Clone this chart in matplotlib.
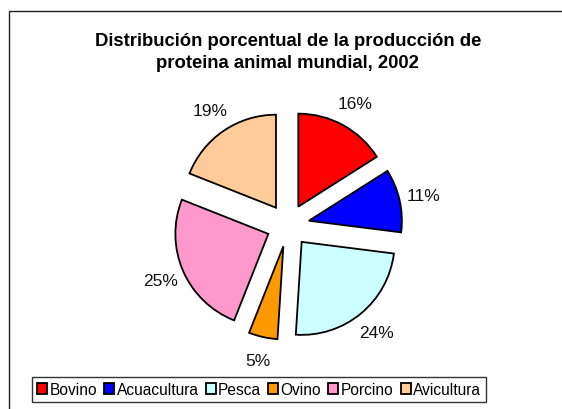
import matplotlib
matplotlib.use('Agg')
import matplotlib.pyplot as plt
from matplotlib.patches import Rectangle

plt.rcParams['font.family'] = ['Liberation Sans', 'DejaVu Sans']

# datos
categorias = ['Bovino', 'Acuacultura', 'Pesca', 'Ovino', 'Porcino', 'Avicultura']
porcentajes = [16, 11, 24, 5, 25, 19]
colores = ['#FF0000', '#0000FF', '#CCFFFF', '#FF9900', '#FF99CC', '#FFCC99']
separacion = [0.23] * len(categorias)

fig = plt.figure(figsize=(5.62, 4.10), dpi=100)
ax = fig.add_axes([0, 0, 1, 1])

wedges, textos, pcts = ax.pie(
    porcentajes, colors=colores, explode=separacion, startangle=90,
    counterclock=False, autopct='%1.0f%%', pctdistance=1.26,
    wedgeprops=dict(edgecolor='black', linewidth=1.3),
    textprops=dict(fontsize=12.5, color='#111111'))

# escala: 1 unidad = 93 px, centro en (288, 226) px desde arriba
r = 93.0
ax.set_xlim(-288 / r, (562 - 288) / r)
ax.set_ylim(-(410 - 226.4) / r, 226.4 / r)
ax.set_aspect('auto')
ax.axis('off')

# marco exterior
fig.patches.append(Rectangle((9 / 562, -0.1), 1.2, 1.1 - 11.5 / 410,
                             transform=fig.transFigure, fill=False,
                             edgecolor='#222222', linewidth=1.0))

fig.text(0.512, 0.872, 'Distribución porcentual de la producción de\nproteina animal mundial, 2002',
         ha='center', va='center', fontsize=13.3, fontweight='bold', linespacing=1.45)

leg = fig.legend(wedges, categorias, loc='center', bbox_to_anchor=(0.461, 0.0476),
                 ncol=6, fontsize=11.2, frameon=True, fancybox=False,
                 edgecolor='black', handlelength=0.65, handleheight=0.65,
                 handletextpad=0.15, columnspacing=0.45, borderpad=0.35,
                 borderaxespad=0)
leg.get_frame().set_linewidth(1.0)

fig.savefig('out.png', dpi=100)
